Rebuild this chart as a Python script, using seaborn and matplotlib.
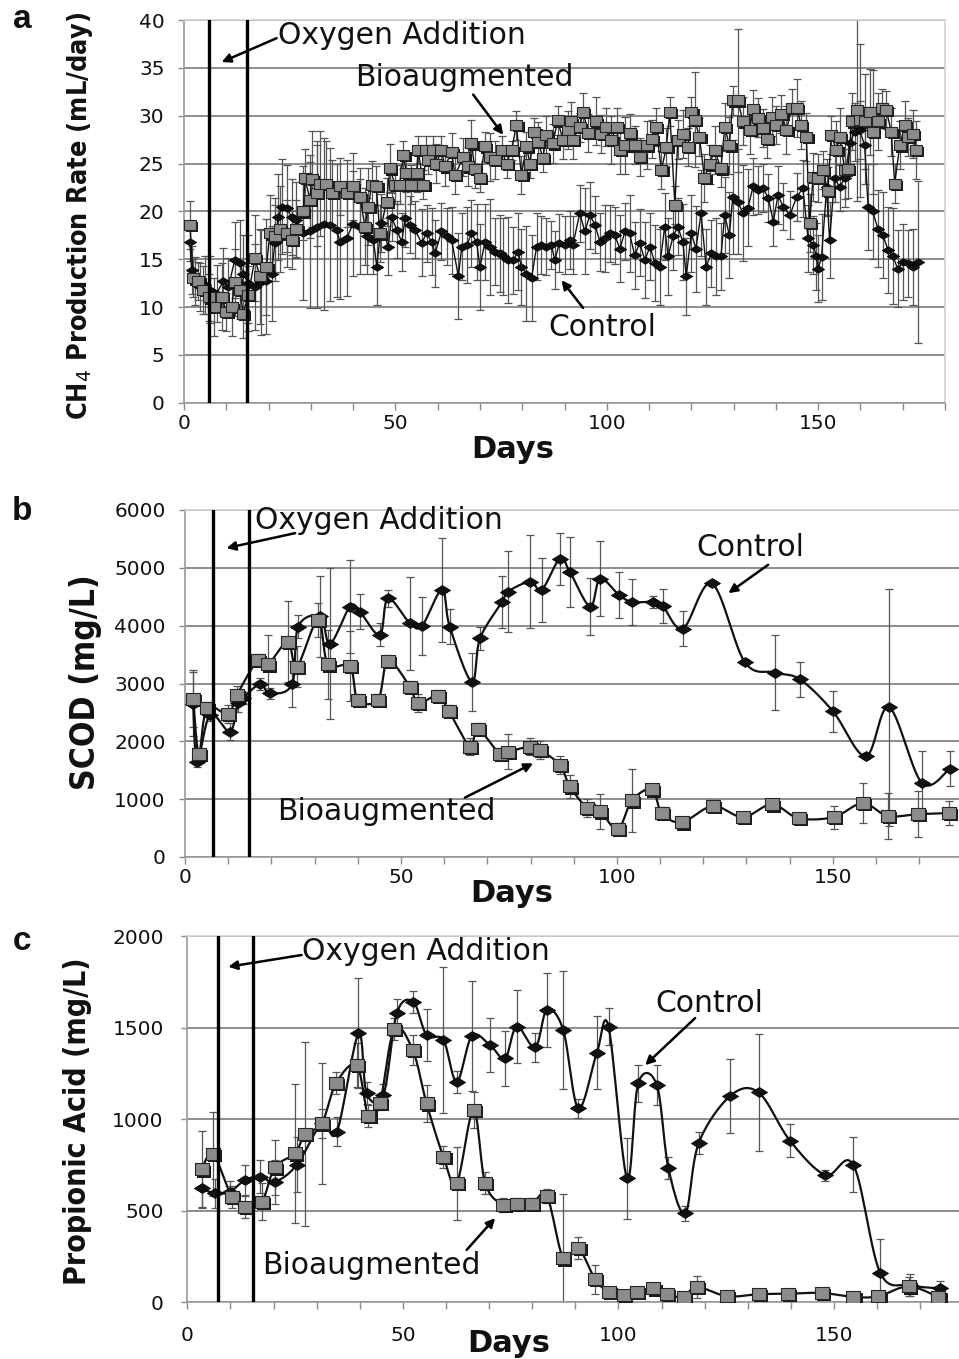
import os
import numpy as np
import matplotlib
matplotlib.use("Agg")
import matplotlib.pyplot as plt
import seaborn as sns
from matplotlib import font_manager as fm
from matplotlib.path import Path
from matplotlib.ticker import MultipleLocator
from matplotlib.transforms import ScaledTranslation

# ---------------- Panel a : CH4 production rate (mL/day) ----------------
a_bio_day = [1.4, 2.2, 3.4, 4.6, 5.8, 7.0, 8.9, 10.0, 11.3, 12.0, 13.2, 14.0, 15.2, 16.8, 17.9, 19.5,
             20.3, 21.5, 22.7, 24.3, 25.5, 26.6, 28.2, 28.6, 29.8, 30.2, 31.4, 32.2, 33.7, 34.9, 36.9,
             38.5, 40.0, 41.6, 42.8, 43.6, 44.4, 45.5, 46.3, 47.9, 48.7, 49.9, 51.0, 51.9, 52.6, 53.8,
             55.0, 55.4, 56.6, 57.3, 57.8, 58.9, 59.7, 60.9, 61.7, 63.3, 64.1, 66.1, 67.2, 68.0, 68.8,
             70.0, 71.2, 72.3, 73.5, 75.1, 76.3, 77.5, 78.6, 79.8, 81.0, 81.8, 82.9, 83.7, 84.9, 85.7,
             87.2, 88.4, 89.6, 90.8, 91.6, 92.0, 93.6, 94.4, 95.6, 97.5, 98.7, 99.9, 101.1, 102.3,
             103.1, 104.3, 105.4, 106.6, 107.8, 109.4, 110.6, 111.7, 112.9, 114.1, 114.9, 116.1,
             116.8, 118.0, 119.2, 120.0, 120.8, 121.9, 123.1, 124.3, 125.5, 127.0, 127.9, 129.0,
             129.8, 131.0, 132.2, 133.8, 134.6, 135.8, 137.0, 137.8, 139.0, 140.1, 141.3, 142.5,
             143.7, 144.9, 146.0, 147.2, 148.0, 148.8, 150.0, 151.1, 152.3, 153.1, 154.3, 155.1,
             156.3, 157.1, 157.9, 159.1, 159.9, 161.0, 162.2, 163.0, 164.2, 165.0, 166.1, 167.3,
             168.1, 169.3, 170.5, 171.2, 172.4, 173.2]
a_bio_val = [18.6, 13.0, 12.7, 11.8, 11.0, 10.0, 11.1, 9.5, 10.0, 12.6, 11.8, 9.3, 11.3, 15.1, 13.2, 14.2,
             17.7, 17.4, 18.2, 17.7, 17.0, 18.2, 20.0, 23.5, 21.2, 23.4, 21.9, 22.9, 22.9, 21.9, 22.6,
             21.9, 22.6, 21.5, 18.4, 20.5, 22.8, 22.7, 17.7, 21.0, 24.5, 22.8, 22.8, 25.9, 24.0, 22.8,
             24.0, 26.4, 22.8, 26.4, 25.4, 26.4, 25.0, 26.4, 24.7, 26.2, 23.8, 25.7, 24.7, 27.1, 24.4,
             23.5, 26.8, 25.7, 25.4, 26.4, 25.0, 26.4, 29.0, 23.8, 26.8, 25.0, 28.3, 27.3, 25.6, 28.0,
             27.1, 29.5, 27.5, 28.5, 29.4, 27.5, 28.8, 30.4, 28.2, 29.4, 28.1, 28.8, 27.5, 28.8,
             26.4, 26.9, 28.2, 26.9, 25.7, 26.9, 27.6, 28.8, 24.3, 26.7, 30.4, 20.7,
             27.5, 28.1, 26.7, 30.4, 29.6, 27.8, 23.5, 24.9, 26.4, 24.5, 28.8, 26.9,
             31.6, 31.6, 29.4, 28.5, 30.7, 29.8, 28.7, 27.6, 29.9, 29.0, 30.2, 28.5,
             30.8, 30.8, 29.0, 27.8, 18.8, 23.6, 23.5, 24.3, 22.1, 28.0, 26.4, 27.8,
             24.3, 24.4, 29.4, 30.6, 29.5, 29.4, 30.4, 28.3, 29.4, 30.8, 30.6, 28.3,
             22.9, 26.9, 29.0, 27.8, 28.1, 26.4]
a_bio_err = [2.5, 2.0, 2.0, 2.5, 2.5, 3.0, 3.5, 2.0, 3.0, 3.5, 3.0, 2.5, 3.0, 4.5, 5.0, 5.0,
             4.0, 4.0, 4.5, 3.5, 3.0, 3.0, 3.0, 3.0, 4.0, 5.0, 5.5, 5.5, 4.5, 3.5, 3.0,
             3.5, 3.5, 3.0, 4.0, 4.0, 2.5, 2.0, 3.0, 2.5, 2.5, 2.0, 2.0, 1.5, 2.0, 2.0,
             2.0, 1.5, 1.5, 1.5, 1.5, 1.5, 2.0, 1.5, 2.0, 2.0, 2.0, 2.0, 2.0, 2.5, 2.0,
             1.5, 1.5, 2.5, 2.0, 1.5, 1.5, 1.0, 1.5, 2.0, 1.5, 1.5, 1.5, 2.0, 1.5, 2.0,
             2.0, 1.5, 2.0, 2.0, 2.0, 2.0, 1.5, 2.0, 2.0, 2.5, 2.0, 2.0, 2.5, 2.0,
             2.5, 3.0, 2.0, 2.0, 2.0, 2.5, 2.0, 2.0, 2.0, 2.0, 1.5, 2.0,
             2.0, 2.5, 2.0, 1.5, 5.0, 2.0, 2.5, 2.0, 2.5, 2.0, 2.5, 3.0,
             1.5, 7.5, 2.5, 2.5, 2.0, 2.0, 2.0, 2.0, 2.0, 2.0, 2.0, 2.5,
             2.0, 3.0, 2.5, 2.5, 3.0, 2.5, 2.5, 2.0, 2.5, 2.0, 3.0, 3.0,
             3.0, 3.0, 3.0, 9.5, 8.0, 5.0, 4.5, 6.5, 3.0, 2.0, 2.0, 2.5,
             2.0, 2.5, 2.5, 2.0, 2.5, 3.0]

a_ctl_day = [1.4, 1.8, 2.6, 3.8, 5.0, 6.1, 7.7, 9.3, 10.5, 12.0, 13.2, 14.0, 15.2, 16.8, 18.3, 19.5,
             20.7, 21.5, 22.3, 23.1, 24.3, 25.5, 26.6, 28.2, 29.8, 31.4, 33.0, 34.5, 36.1, 36.9, 38.5,
             40.0, 41.6, 43.2, 44.8, 45.6, 46.7, 48.3, 49.1, 50.3, 51.5, 52.3, 53.5, 54.6, 56.2,
             57.4, 58.6, 59.4, 60.9, 62.1, 63.3, 64.9, 65.7, 66.9, 68.0, 69.2, 70.0, 71.2, 72.3, 73.5,
             74.7, 75.5, 76.7, 77.9, 79.0, 79.8, 81.0, 82.2, 83.4, 84.5, 85.7, 86.9, 87.7, 88.8, 90.0,
             91.2, 92.0, 93.6, 94.8, 96.0, 97.2, 98.4, 99.5, 100.7, 101.9, 103.1, 104.3, 105.4, 106.6,
             107.8, 109.0, 110.2, 111.4, 112.5, 113.7, 114.5, 115.7, 116.8, 118.0, 118.8, 120.0,
             121.1, 122.3, 123.5, 124.7, 125.9, 127.0, 127.9, 129.0, 129.8, 131.0, 132.2, 133.4,
             134.6, 135.8, 137.0, 138.2, 139.4, 140.5, 141.7, 143.3, 144.9, 146.4, 147.6, 148.8,
             149.6, 150.0, 150.8, 152.0, 152.7, 153.9, 155.1, 156.3, 157.5, 158.6, 159.8, 161.0,
             161.8, 162.9, 164.1, 165.3, 166.5, 167.7, 168.8, 170.0, 171.2, 172.4, 173.5]
a_ctl_val = [16.8, 13.9, 12.7, 12.1, 12.3, 11.8, 11.4, 12.7, 12.1, 14.9, 14.6, 13.5, 12.5, 12.1, 12.6, 12.7,
             13.5, 16.7, 19.4, 20.5, 20.3, 19.4, 19.1, 17.7, 17.9, 18.4, 18.7, 18.6, 18.0, 16.8, 17.2,
             18.7, 18.4, 17.4, 17.0, 14.2, 18.8, 16.3, 19.4, 18.1, 16.8, 19.3, 18.6, 18.1, 16.7,
             17.7, 16.8, 15.6, 17.9, 17.4, 17.0, 13.2, 16.3, 16.5, 17.7, 16.8, 14.2, 16.8, 16.3, 15.8,
             15.6, 15.3, 14.9, 14.9, 15.8, 14.2, 13.5, 13.0, 16.3, 16.5, 16.3, 16.5, 14.9, 16.7, 16.5,
             17.0, 16.5, 19.8, 17.9, 19.6, 18.6, 16.8, 17.2, 17.7, 17.5, 16.1, 17.9, 17.7, 15.4,
             16.7, 14.9, 16.3, 14.6, 14.2, 18.4, 15.3, 17.4, 18.4, 16.8, 13.2, 17.7,
             16.1, 19.8, 14.2, 15.6, 15.3, 15.3, 19.6, 17.5, 21.5, 21.0, 19.8, 20.4,
             22.6, 22.2, 22.4, 21.4, 18.9, 21.7, 20.5, 19.6, 21.5, 22.4, 17.2, 16.5,
             15.3, 14.0, 15.2, 22.5, 17.0, 23.5, 22.5, 23.5, 27.1, 28.3, 28.5, 26.9,
             20.5, 20.0, 18.2, 17.5, 16.0, 15.3, 14.0, 14.7, 14.6, 14.2, 14.7]
a_ctl_err = [2.0, 2.5, 2.5, 2.5, 3.0, 3.5, 3.0, 3.5, 3.0, 4.0, 4.5, 4.0, 5.0, 4.5, 5.5, 5.5,
             5.0, 4.0, 4.5, 5.0, 4.5, 4.0, 4.0, 7.0, 8.0, 8.5, 9.0, 8.0, 7.0, 6.0, 6.0,
             5.5, 5.0, 4.0, 3.5, 4.0, 3.0, 3.0, 2.5, 3.0, 3.0, 3.0, 3.0, 3.0, 3.5,
             3.0, 3.5, 3.5, 3.0, 3.0, 3.5, 4.5, 3.5, 4.0, 3.5, 4.0, 4.5, 4.0, 5.0, 3.5,
             4.0, 4.0, 4.5, 3.5, 4.0, 4.0, 5.0, 4.5, 3.5, 3.0, 3.0, 2.5, 3.0, 3.0, 3.0,
             3.0, 3.0, 3.0, 4.5, 3.5, 3.0, 3.0, 3.5, 3.0, 3.0, 3.5, 3.0, 4.0, 3.5,
             3.5, 4.0, 3.5, 4.0, 4.0, 3.5, 4.0, 3.5, 3.0, 4.0, 4.0, 4.0,
             4.5, 4.5, 4.0, 3.5, 4.0, 3.5, 4.0, 4.5, 6.0, 5.5, 5.0, 4.0,
             3.0, 2.5, 2.5, 2.5, 2.5, 3.0, 2.5, 2.5, 2.5, 3.0, 3.5, 3.0,
             3.5, 3.5, 4.5, 3.0, 4.0, 2.5, 2.5, 3.0, 3.0, 3.0, 3.0, 4.0,
             4.5, 5.0, 4.0, 4.5, 4.5, 5.0, 4.0, 4.0, 3.5, 4.0, 8.5]

# ---------------- Panel b : SCOD (mg/L) ----------------
b_ctl_day = [1.9, 2.8, 5.8, 10.4, 12.3, 13.4, 17.4, 19.7, 24.8, 26.2, 31.3, 33.6, 38.2, 40.5, 45.1,
             47.0, 52.1, 54.9, 59.5, 61.3, 66.4, 68.3, 73.4, 74.8, 79.9, 82.6, 86.8, 89.1, 93.8,
             96.1, 100.5, 103.5, 108.3, 110.6, 115.3, 122.0, 129.6, 136.6, 142.4, 150.0, 157.6,
             163.0, 170.6, 177.1]
b_ctl_val = [2650, 1650, 2460, 2170, 2660, 2750, 2990, 2830, 2990, 3980, 4160, 3690, 4330, 4240, 3840,
             4470, 4040, 4000, 4620, 3980, 3030, 3780, 4410, 4590, 4760, 4620, 5160, 4930, 4330,
             4810, 4530, 4410, 4410, 4340, 3950, 4730, 3370, 3190, 3070, 2520, 1740,
             2590, 1280, 1530]
b_ctl_err = [550, 100, 100, 150, 150, 100, 100, 100, 400, 200, 700, 1300, 800, 300, 200,
             150, 800, 500, 900, 300, 500, 200, 450, 700, 800, 550, 450, 600, 500,
             650, 400, 400, 100, 300, 300, 50, 50, 650, 300, 350, 50,
             2050, 550, 300]
b_bio_day = [1.9, 3.2, 5.1, 10.0, 12.0, 16.9, 19.2, 23.8, 25.9, 30.8, 33.1, 38.2, 40.0, 44.7, 47.0,
             52.1, 53.9, 58.6, 61.1, 66.0, 67.8, 72.9, 74.8, 79.9, 82.2, 86.8, 89.1, 93.1, 96.1,
             100.2, 103.5, 108.1, 110.4, 115.0, 122.2, 129.2, 135.9, 142.1, 150.2, 156.9, 162.7,
             169.7, 176.9]
b_bio_val = [2740, 1780, 2580, 2470, 2800, 3410, 3330, 3720, 3290, 4100, 3330, 3300, 2720, 2720, 3390,
             2940, 2660, 2790, 2520, 1910, 2210, 1780, 1820, 1910, 1850, 1590, 1220, 850, 790,
             480, 980, 1170, 760, 600, 880, 690, 910, 670, 690, 930, 710,
             740, 760]
b_bio_err = [500, 100, 100, 150, 150, 100, 500, 700, 350, 300, 600, 600, 100, 100, 100,
             100, 150, 100, 100, 150, 100, 100, 300, 150, 150, 150, 200, 150, 300,
             100, 550, 100, 100, 50, 100, 50, 100, 50, 200, 350, 400,
             400, 200]

# ---------------- Panel c : Propionic acid (mg/L) ----------------
c_ctl_day = [3.3, 6.4, 9.9, 13.4, 16.9, 20.3, 25.4, 31.2, 34.7, 39.7, 41.6, 45.5, 48.6, 52.4, 55.5,
             59.4, 62.5, 66.0, 70.2, 73.7, 76.4, 80.7, 83.4, 87.2, 90.7, 95.0, 97.7, 102.0, 104.6,
             108.9, 111.6, 115.5, 118.6, 125.9, 132.5, 139.8, 148.0, 154.5, 160.7, 167.7, 174.6]
c_ctl_val = [622, 595, 604, 668, 686, 658, 750, 977, 931, 1468, 1141, 1132, 1578, 1641, 1459,
             1432, 1204, 1454, 1405, 1332, 1505, 1392, 1596, 1487, 1059, 1363, 1505, 677, 1196,
             1186, 731, 486, 868, 1126, 1146, 882, 695, 750, 162, 94, 76]
c_ctl_err = [100, 80, 60, 80, 90, 120, 150, 80, 80, 300, 60, 60, 80, 60, 140,
             400, 60, 300, 150, 150, 200, 80, 200, 320, 50, 200, 100, 220, 100,
             110, 60, 40, 60, 200, 320, 90, 30, 150, 185, 60, 40]
c_bio_day = [3.3, 6.0, 10.3, 13.4, 17.3, 20.3, 25.0, 27.3, 31.2, 34.5, 39.3, 42.0, 44.7, 48.0, 52.3,
             55.5, 59.4, 62.5, 66.4, 69.1, 73.3, 76.4, 79.9, 83.4, 87.2, 90.7, 94.6, 97.7, 101.2,
             104.3, 108.1, 111.2, 115.1, 118.2, 125.2, 132.5, 139.4, 147.2, 154.5, 160.3, 167.3,
             174.2]
c_bio_val = [726, 810, 577, 522, 549, 737, 813, 919, 977, 1196, 1295, 1017, 1090, 1492, 1377,
             1086, 795, 650, 1050, 650, 531, 537, 537, 580, 240, 295, 126, 58, 40,
             58, 76, 44, 29, 84, 33, 44, 47, 51, 29, 33, 87,
             29]
c_bio_err = [210, 230, 60, 60, 100, 150, 380, 500, 330, 60, 120, 60, 40, 60, 80,
             100, 60, 200, 100, 60, 40, 30, 30, 40, 350, 60, 80, 20, 20,
             20, 20, 20, 20, 60, 20, 20, 20, 20, 20, 20, 50,
             20]

oxygen_days_a = [6, 15]
oxygen_days_b = [6.4, 14.8]
oxygen_days_c = [7.2, 15.2]

# ---------------------------------------------------------------
sns.set_theme(style="ticks")
plt.rcParams['font.family'] = ['DejaVu Sans']


def pick_narrow_bold():
    best = None
    for f in fm.fontManager.ttflist:
        nm = f.name.lower()
        fn = os.path.basename(f.fname).lower()
        if any(k in nm or k in fn for k in ('mono', 'serif', 'cjk', 'math', 'symbol')):
            continue
        try:
            w = int(f.weight)
        except (TypeError, ValueError):
            w = 700 if 'bold' in str(f.weight) else 400
        narrow = ('narrow' in nm or 'narrow' in fn or 'condensed' in nm or 'condensed' in fn
                  or str(f.stretch) in ('condensed', 'semi-condensed', 'extra-condensed'))
        if not narrow or f.style != 'normal' or w < 600 or w > 800:
            continue
        score = 5
        if 'liberation' in nm:
            score = 0
        elif 'extra' in nm or 'extra' in fn or 'ultra' in fn:
            score = 4
        elif 'semi' in nm or 'semi' in fn:
            score = 2
        elif 'condensed' in nm or 'condensed' in fn:
            score = 1
        score += abs(w - 700) / 1000.0
        if best is None or score < best[0]:
            best = (score, f.fname)
    if best is None:
        return fm.FontProperties(family=['Liberation Sans', 'DejaVu Sans'], weight='bold')
    return fm.FontProperties(fname=best[1])


NARROW_FP = pick_narrow_bold()

W, H = 959, 1359
fig = plt.figure(figsize=(W / 100, H / 100), dpi=100)
fig.patch.set_facecolor('white')


def px_axes(left, right, top, bottom):
    return fig.add_axes([left / W, 1 - bottom / H, (right - left) / W, (bottom - top) / H])


ax_a = px_axes(184, 945, 20, 402.7)
ax_b = px_axes(185, 959, 510, 857)
ax_c = px_axes(187.3, 959, 936, 1302.3)

SQ = Path([(-1, -0.8), (1, -0.8), (1, 0.8), (-1, 0.8), (-1, -0.8)],
          [Path.MOVETO, Path.LINETO, Path.LINETO, Path.LINETO, Path.CLOSEPOLY])
DM = Path([(-1, 0), (0, 0.62), (1, 0), (0, -0.62), (-1, 0)],
          [Path.MOVETO, Path.LINETO, Path.LINETO, Path.LINETO, Path.CLOSEPOLY])


def smooth(x, y, n=14):
    pts = np.column_stack([x, y]).astype(float)
    P = np.vstack([pts[0], pts, pts[-1]])
    t = np.linspace(0, 1, n)[:, None]
    out = []
    for i in range(len(pts) - 1):
        p0, p1, p2, p3 = P[i], P[i + 1], P[i + 2], P[i + 3]
        c1 = p1 + (p2 - p0) / 6.0
        c2 = p2 - (p3 - p1) / 6.0
        seg = ((1 - t) ** 3) * p1 + 3 * ((1 - t) ** 2) * t * c1 + 3 * (1 - t) * t ** 2 * c2 + t ** 3 * p2
        out.append(seg if i == 0 else seg[1:])
    out = np.vstack(out)
    return out[:, 0], out[:, 1]


def draw_series(ax, day, val, err, kind, smooth_line, msize, lw):
    if smooth_line:
        xs, ys = smooth(day, val)
    else:
        xs, ys = np.asarray(day), np.asarray(val)
    sns.lineplot(x=xs, y=ys, ax=ax, sort=False, estimator=None, color='#111111', lw=lw, zorder=3)
    ax.errorbar(day, val, yerr=err, fmt='none', ecolor='#555555', elinewidth=0.9,
                capsize=2.6, capthick=0.9, zorder=2.5)
    if kind == 'sq':
        shadow = ax.transData + ScaledTranslation(1.6 / 72, -1.6 / 72, fig.dpi_scale_trans)
        ax.scatter(day, val, marker=SQ, s=msize ** 2, color='#1a1a1a', linewidths=0,
                   transform=shadow, zorder=4)
        sns.scatterplot(x=day, y=val, ax=ax, marker=SQ, s=msize ** 2, color='#8c8c8c',
                        edgecolor='#262626', linewidth=0.8, zorder=5)
    else:
        sns.scatterplot(x=day, y=val, ax=ax, marker=DM, s=msize ** 2, color='#111111',
                        edgecolor='#000000', linewidth=0.6, zorder=4.5)


def style_axis(ax, xmax, ymax, ystep, right_spine=True, xpad=4, ypad=10):
    ax.set_xlim(0, xmax)
    ax.set_ylim(0, ymax)
    ax.xaxis.set_major_locator(MultipleLocator(50))
    ax.xaxis.set_minor_locator(MultipleLocator(10))
    ax.yaxis.set_major_locator(MultipleLocator(ystep))
    ax.grid(axis='y', color='#7a7a7a', lw=1.2, zorder=0)
    ax.grid(axis='x', visible=False)
    ax.set_axisbelow(True)
    ax.tick_params(axis='x', which='both', direction='out', length=5, width=1, color='#8a8a8a',
                   labelsize=14.5, pad=xpad, labelcolor='#111111')
    ax.tick_params(axis='y', which='major', direction='out', length=4, width=1, color='#8a8a8a',
                   labelsize=14.5, pad=ypad, labelcolor='#111111')
    for s in ['left', 'bottom']:
        ax.spines[s].set_color('#9a9a9a')
        ax.spines[s].set_linewidth(1.2)
    for s in ['top', 'right']:
        ax.spines[s].set_color('#d2d2d2')
        ax.spines[s].set_linewidth(1.2)
    ax.spines['right'].set_visible(right_spine)
    ax.set_xlabel('')
    ax.set_ylabel('')


def oxygen_lines(ax, days):
    for d in days:
        ax.axvline(d, color='black', lw=2.4, zorder=6)


ARROW = dict(arrowstyle='-|>', color='black', lw=1.8, mutation_scale=13, shrinkA=0, shrinkB=0)
TXT = dict(fontsize=21.5, color='#111111', ha='left', va='center', zorder=8)


def label_arrow(ax, text, txy, start, end):
    ax.text(txy[0], txy[1], text, **TXT)
    ax.annotate('', xy=end, xytext=start, arrowprops=ARROW, zorder=8)


# ---- panel a
draw_series(ax_a, a_ctl_day, a_ctl_val, a_ctl_err, 'dm', False, 8.8, 1.0)
draw_series(ax_a, a_bio_day, a_bio_val, a_bio_err, 'sq', False, 8.6, 1.0)
style_axis(ax_a, 180, 40, 5, True, xpad=3, ypad=10)
oxygen_lines(ax_a, oxygen_days_a)
label_arrow(ax_a, 'Oxygen Addition', (22.2, 38.4), (21.9, 38.1), (8.9, 35.6))
label_arrow(ax_a, 'Bioaugmented', (40.4, 34.0), (68.4, 32.2), (75.5, 28.0))
label_arrow(ax_a, 'Control', (86.1, 7.9), (94.4, 9.9), (89.3, 12.8))

# ---- panel b
draw_series(ax_b, b_ctl_day, b_ctl_val, b_ctl_err, 'dm', True, 11.5, 1.6)
draw_series(ax_b, b_bio_day, b_bio_val, b_bio_err, 'sq', True, 10.0, 1.6)
style_axis(ax_b, 179.2, 6000, 1000, False, xpad=3, ypad=10)
oxygen_lines(ax_b, oxygen_days_b)
label_arrow(ax_b, 'Oxygen Addition', (16.2, 5813), (25.5, 5600), (9.6, 5341))
label_arrow(ax_b, 'Control', (118.5, 5346), (135.0, 5052), (125.8, 4562))
label_arrow(ax_b, 'Bioaugmented', (21.3, 779), (64.8, 1026), (80.6, 1621))

# ---- panel c
draw_series(ax_c, c_ctl_day, c_ctl_val, c_ctl_err, 'dm', True, 11.5, 1.6)
draw_series(ax_c, c_bio_day, c_bio_val, c_bio_err, 'sq', True, 10.0, 1.6)
style_axis(ax_c, 179.0, 2000, 500, False, xpad=12, ypad=13)
oxygen_lines(ax_c, oxygen_days_c)
label_arrow(ax_c, 'Oxygen Addition', (26.6, 1918), (26.5, 1896), (9.5, 1832))
label_arrow(ax_c, 'Control', (108.5, 1634), (117.8, 1552), (106.2, 1295))
label_arrow(ax_c, 'Bioaugmented', (17.3, 203), (64.8, 286), (71.4, 460))


# ---- outer labels (pixel placement)
def ftext(xpx, ypx, s, **kw):
    return fig.text(xpx / W, 1 - ypx / H, s, **kw)


ylabels = [(80, 12, 420, r'CH$_4$ Production Rate (mL/day)', 26),
           (86, 575, 790, 'SCOD (mg/L)', 20),
           (78, 958, 1285, 'Propionic Acid (mg/L)', 22)]
fig.canvas.draw()
renderer = fig.canvas.get_renderer()
for xp, y0, y1, s, size in ylabels:
    fp = NARROW_FP.copy()
    fp.set_size(size)
    t = ftext(xp, (y0 + y1) / 2, s, rotation=90, ha='center', va='center',
              fontproperties=fp, color='#111111')
    length = t.get_window_extent(renderer).height
    new_size = size * (y1 - y0) / length
    fp2 = NARROW_FP.copy()
    fp2.set_size(min(new_size, 34))
    t.set_fontproperties(fp2)

for (xp, yp) in [(513, 450), (512, 893), (509, 1343)]:
    ftext(xp, yp, 'Days', ha='center', va='center', fontsize=22, fontweight='bold', color='#111111')

for (xp, yp, s) in [(22, 20, 'a'), (22, 511, 'b'), (22, 941, 'c')]:
    ftext(xp, yp, s, ha='center', va='center', fontsize=24, fontweight='bold',
          family=['Liberation Sans', 'DejaVu Sans'], color='#111111')

fig.savefig('out.png', dpi=100, facecolor='white')
